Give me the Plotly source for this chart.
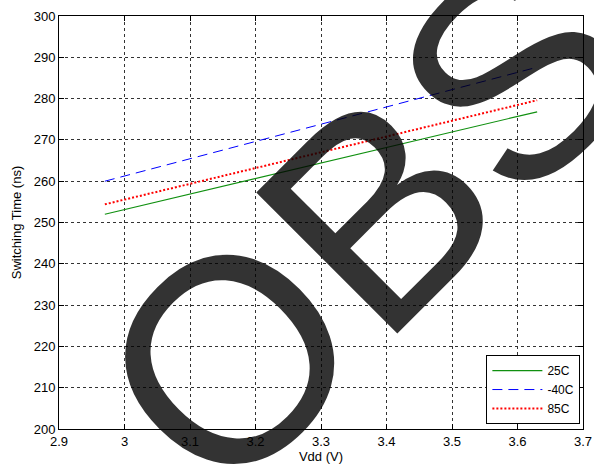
import plotly.graph_objects as go

# Data
vdd = [2.97, 3.30, 3.63]
t_25c = [252.0, 264.4, 276.8]
t_m40c = [260.0, 273.8, 287.6]
t_85c = [254.4, 267.0, 279.6]

x_ticks = [2.9, 3.0, 3.1, 3.2, 3.3, 3.4, 3.5, 3.6, 3.7]
x_ticktext = ["2.9", "3", "3.1", "3.2", "3.3", "3.4", "3.5", "3.6", "3.7"]
y_ticks = [200, 210, 220, 230, 240, 250, 260, 270, 280, 290, 300]

FONT = "Liberation Sans, Arial, sans-serif"

fig = go.Figure()
fig.add_trace(go.Scatter(x=vdd, y=t_25c, mode="lines", name="25C",
                         line=dict(color="#109010", width=1.2)))
fig.add_trace(go.Scatter(x=vdd, y=t_m40c, mode="lines", name="-40C",
                         line=dict(color="#0000FF", width=1, dash="10px,6px")))
fig.add_trace(go.Scatter(x=vdd, y=t_85c, mode="lines", name="85C",
                         line=dict(color="#FF0000", width=2, dash="2px,2px")))

axis_common = dict(
    showline=True, linecolor="black", linewidth=1, mirror="ticks",
    ticks="inside", ticklen=5, tickcolor="black",
    showgrid=True, gridcolor="#333333", gridwidth=1, griddash="3px,3px",
    zeroline=False, automargin=False,
    tickfont=dict(family=FONT, size=13, color="black"),
)

fig.update_xaxes(range=[2.9, 3.7], tickmode="array", tickvals=x_ticks,
                 ticktext=x_ticktext,
                 title=dict(text="Vdd (V)", font=dict(family=FONT, size=13, color="black"),
                            standoff=4),
                 **axis_common)
fig.update_yaxes(range=[200, 300], tickmode="array", tickvals=y_ticks,
                 title=dict(text="Switching Time (ns)", font=dict(family=FONT, size=13, color="black"),
                            standoff=9),
                 **axis_common)

fig.update_layout(
    width=594, height=468,
    margin=dict(l=59, r=11, t=16, b=39),
    paper_bgcolor="white", plot_bgcolor="white",
    font=dict(family=FONT, size=13, color="black"),
    showlegend=True,
    legend=dict(x=0.995, y=0.012, xanchor="right", yanchor="bottom",
                bgcolor="white", bordercolor="black", borderwidth=1,
                font=dict(family=FONT, size=12, color="black"),
                tracegroupgap=0, itemwidth=50),
    annotations=[dict(
        text="OBS", xref="paper", yref="paper", x=0.586, y=0.501,
        xanchor="center", yanchor="middle", showarrow=False,
        textangle=-45,
        font=dict(family=FONT, size=290, color="rgba(0,0,0,0.8)"),
    )],
)

fig.write_html("out.html", config={"displayModeBar": False},
               post_script="document.body.style.margin='0';document.body.style.padding='0';")
